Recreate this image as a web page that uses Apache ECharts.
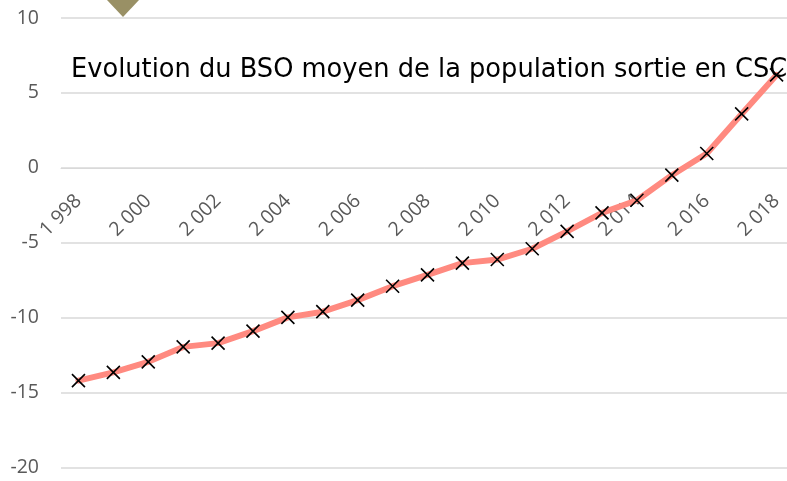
<!DOCTYPE html>
<html>
<head>
<meta charset="utf-8">
<script src="https://cdn.jsdelivr.net/npm/echarts@6/dist/echarts.min.js"></script>
<style>
html,body{margin:0;padding:0;background:#fff;}
#chart{width:787px;height:481px;}
</style>
</head>
<body>
<div id="chart"></div>
<script>
// ---- data ----
const titleText = 'Evolution du BSO moyen de la population sortie en CSC';
const seriesName = 'BSO moyen';
const categories = ['1 998','1 999','2 000','2 001','2 002','2 003','2 004','2 005','2 006','2 007','2 008','2 009','2 010','2 011','2 012','2 013','2 014','2 015','2 016','2 017','2 018'];
const bsoValues = [-14.2,-13.65,-12.95,-11.95,-11.7,-10.9,-9.98,-9.6,-8.83,-7.9,-7.14,-6.36,-6.12,-5.4,-4.24,-3.01,-2.16,-0.49,0.96,3.6,6.2];
const yTicks = { min: -20, max: 10, interval: 5 };

const chart = echarts.init(document.getElementById('chart'), null, { renderer: 'canvas' });
const gridColor = '#d9d9d9';
const labelColor = '#595959';
chart.setOption({
  backgroundColor: '#ffffff',
  animation: false,
  title: {
    text: titleText,
    left: 66,
    top: 52,
    textStyle: { fontFamily: 'DejaVu Sans', fontSize: 25.7, fontWeight: 'normal', color: '#000000' }
  },
  legend: {
    left: 107,
    top: -17,
    padding: 0,
    itemWidth: 32,
    itemHeight: 34,
    formatter: () => '',
    data: [{ name: seriesName, icon: 'diamond', itemStyle: { color: '#999065', borderWidth: 0 } }]
  },
  grid: { left: 61, right: -7, top: 18, bottom: 13.5, containLabel: false, outerBoundsMode: 'none' },
  xAxis: {
    type: 'category',
    data: categories,
    boundaryGap: true,
    offset: 0,
    axisLine: { show: true, onZero: false, lineStyle: { color: gridColor, width: 1 } },
    axisTick: { show: false },
    axisLabel: {
      interval: 1,
      rotate: 45,
      margin: 30,
      padding: 0,
      color: labelColor,
      fontFamily: 'Open Sans',
      fontSize: 19.5
    },
    splitLine: { show: false }
  },
  yAxis: {
    type: 'value',
    min: yTicks.min,
    max: yTicks.max,
    interval: yTicks.interval,
    axisLine: { show: false },
    axisTick: { show: false },
    axisLabel: { color: labelColor, fontFamily: 'Open Sans', fontSize: 19.5, margin: 22 },
    splitLine: { lineStyle: { color: gridColor, width: 1.5 } }
  },
  series: [{
    name: seriesName,
    type: 'line',
    data: bsoValues,
    symbol: 'path://M0,0L10,10M10,0L0,10',
    symbolSize: 13,
    lineStyle: { color: '#ff8a80', width: 6, cap: 'round', join: 'round' },
    itemStyle: { color: 'none', borderColor: '#000000', borderWidth: 1.6 },
    z: 3
  }]
});
// place the category axis (and its labels) on the y = 0 line, as in the reference
const zeroY = chart.convertToPixel({ yAxisIndex: 0 }, 0);
const bottomY = chart.convertToPixel({ yAxisIndex: 0 }, yTicks.min);
chart.setOption({ xAxis: { offset: zeroY - bottomY } });
</script>
</body>
</html>
